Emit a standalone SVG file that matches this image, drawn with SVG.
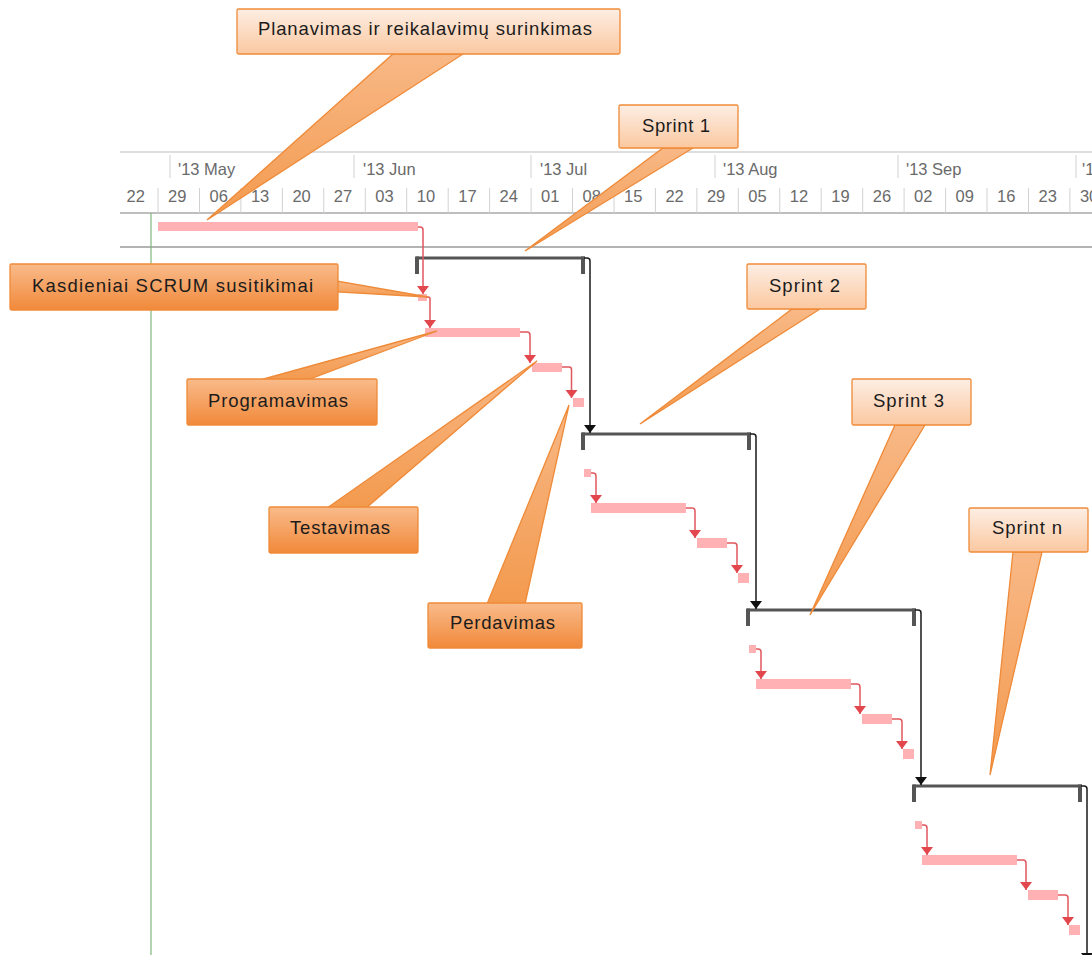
<svg xmlns="http://www.w3.org/2000/svg" width="1092" height="955" viewBox="0 0 1092 955">
  <style>
    .hdr{font-family:"Liberation Sans",Arial,sans-serif;font-size:16.5px;fill:#6a6a6a}
    .wk{text-anchor:middle}
    .tick{stroke:#d2d2d2;stroke-width:1}
    .task{fill:#ffb1b4}
    .dep{fill:none;stroke:#e0585d;stroke-width:1.5}
    .sum{fill:none;stroke:#1a1a1a;stroke-width:1.5}
    .brk{fill:none;stroke:#555;stroke-width:3}
    .brt{fill:#555}
    .lbl{font-family:"Liberation Sans",Arial,sans-serif;font-size:18.5px;fill:#1c1c1c;text-anchor:middle}
    .co{stroke:#ef8a38;stroke-width:1.3}
    .box-l{fill:url(#gLight)}
    .box-d{fill:url(#gDark)}
    .wedge{fill:url(#gWedge)}
  </style>
  <defs>
    <linearGradient id="gLight" x1="0" y1="0" x2="0" y2="1">
      <stop offset="0" stop-color="#fdeee4"/>
      <stop offset="1" stop-color="#fbc8a0"/>
    </linearGradient>
    <linearGradient id="gDark" x1="0" y1="0" x2="0" y2="1">
      <stop offset="0" stop-color="#f9bb8b"/>
      <stop offset="1" stop-color="#f1893a"/>
    </linearGradient>
    <linearGradient id="gWedge" x1="0" y1="0" x2="0" y2="1">
      <stop offset="0" stop-color="#f8b886"/>
      <stop offset="1" stop-color="#f39a4e"/>
    </linearGradient>
    <marker id="arrRed" viewBox="0 0 8 12" refX="8" refY="6" markerWidth="8" markerHeight="13" markerUnits="userSpaceOnUse" orient="auto">
      <path d="M0,0 L8,6 L0,12 Z" fill="#e2474d"/>
    </marker>
    <marker id="arrBlk" viewBox="0 0 8 12" refX="8" refY="6" markerWidth="8" markerHeight="13" markerUnits="userSpaceOnUse" orient="auto">
      <path d="M0,0 L8,6 L0,12 Z" fill="#111"/>
    </marker>
  </defs>

  <rect width="1092" height="955" fill="#fff"/>

  <!-- timescale header -->
  <g id="timescale">
    <line x1="120" y1="152" x2="1092" y2="152" stroke="#dedede" stroke-width="2"/>
    <line x1="120" y1="213" x2="1092" y2="213" stroke="#a8a8a8" stroke-width="1.5"/>
    <line x1="120" y1="247" x2="1092" y2="247" stroke="#9a9a9a" stroke-width="1.5"/>
    <g class="tick">
      <line x1="170" y1="155" x2="170" y2="178"/>
      <line x1="354" y1="155" x2="354" y2="178"/>
      <line x1="531" y1="155" x2="531" y2="178"/>
      <line x1="715" y1="155" x2="715" y2="178"/>
      <line x1="898" y1="155" x2="898" y2="178"/>
      <line x1="1076" y1="155" x2="1076" y2="178"/>
      <line x1="158" y1="188" x2="158" y2="213"/>
      <line x1="199.5" y1="188" x2="199.5" y2="213"/>
      <line x1="240.9" y1="188" x2="240.9" y2="213"/>
      <line x1="282.4" y1="188" x2="282.4" y2="213"/>
      <line x1="323.8" y1="188" x2="323.8" y2="213"/>
      <line x1="365.3" y1="188" x2="365.3" y2="213"/>
      <line x1="406.7" y1="188" x2="406.7" y2="213"/>
      <line x1="448.2" y1="188" x2="448.2" y2="213"/>
      <line x1="489.6" y1="188" x2="489.6" y2="213"/>
      <line x1="531.1" y1="188" x2="531.1" y2="213"/>
      <line x1="572.5" y1="188" x2="572.5" y2="213"/>
      <line x1="614" y1="188" x2="614" y2="213"/>
      <line x1="655.4" y1="188" x2="655.4" y2="213"/>
      <line x1="696.9" y1="188" x2="696.9" y2="213"/>
      <line x1="738.3" y1="188" x2="738.3" y2="213"/>
      <line x1="779.8" y1="188" x2="779.8" y2="213"/>
      <line x1="821.2" y1="188" x2="821.2" y2="213"/>
      <line x1="862.7" y1="188" x2="862.7" y2="213"/>
      <line x1="904.1" y1="188" x2="904.1" y2="213"/>
      <line x1="945.6" y1="188" x2="945.6" y2="213"/>
      <line x1="987" y1="188" x2="987" y2="213"/>
      <line x1="1028.5" y1="188" x2="1028.5" y2="213"/>
      <line x1="1069.9" y1="188" x2="1069.9" y2="213"/>
    </g>
    <g class="hdr">
      <text x="178" y="175">'13 May</text>
      <text x="363" y="175">'13 Jun</text>
      <text x="540" y="175">'13 Jul</text>
      <text x="723" y="175">'13 Aug</text>
      <text x="906" y="175">'13 Sep</text>
      <text x="1082" y="175">'1</text>
    </g>
    <g class="hdr wk">
      <text x="135.8" y="202">22</text>
      <text x="177.2" y="202">29</text>
      <text x="218.7" y="202">06</text>
      <text x="260.1" y="202">13</text>
      <text x="301.6" y="202">20</text>
      <text x="343" y="202">27</text>
      <text x="384.5" y="202">03</text>
      <text x="425.9" y="202">10</text>
      <text x="467.4" y="202">17</text>
      <text x="508.8" y="202">24</text>
      <text x="550.3" y="202">01</text>
      <text x="591.7" y="202">08</text>
      <text x="633.2" y="202">15</text>
      <text x="674.6" y="202">22</text>
      <text x="716.1" y="202">29</text>
      <text x="757.5" y="202">05</text>
      <text x="799" y="202">12</text>
      <text x="840.4" y="202">19</text>
      <text x="881.9" y="202">26</text>
      <text x="923.3" y="202">02</text>
      <text x="964.8" y="202">09</text>
      <text x="1006.2" y="202">16</text>
      <text x="1047.7" y="202">23</text>
      <text x="1089.1" y="202">30</text>
    </g>
  </g>

  <!-- project start line -->
  <line id="start-line" x1="151" y1="213" x2="151" y2="955" stroke="#7cb77c" stroke-width="1.2"/>

  <!-- planning task -->
  <g id="planning">
    <rect class="task" x="158" y="222" width="260" height="9"/>
  </g>

  <!-- sprints: summary bracket and four task bars each -->
  <g id="sprint1" transform="translate(416,258)">
    <line class="brk" x1="0" y1="0" x2="169" y2="0"/>
    <rect class="brt" x="-1" y="-1.5" width="4" height="17.5"/>
    <rect class="brt" x="165" y="-1.5" width="4" height="17.5"/>
    <rect class="task" x="2" y="36" width="9" height="7"/>
    <rect class="task" x="9" y="70" width="95" height="9"/>
    <rect class="task" x="116" y="105" width="30" height="9"/>
    <rect class="task" x="157" y="140" width="11" height="9"/>
  </g>
  <g id="sprint2" transform="translate(582,434)">
    <line class="brk" x1="0" y1="0" x2="169" y2="0"/>
    <rect class="brt" x="-1" y="-1.5" width="4" height="17.5"/>
    <rect class="brt" x="165" y="-1.5" width="4" height="17.5"/>
    <rect class="task" x="2" y="35" width="7" height="8"/>
    <rect class="task" x="9" y="69" width="95" height="10"/>
    <rect class="task" x="115" y="104" width="30" height="10"/>
    <rect class="task" x="156" y="139" width="11" height="10"/>
  </g>
  <g id="sprint3" transform="translate(747,610)">
    <line class="brk" x1="0" y1="0" x2="169" y2="0"/>
    <rect class="brt" x="-1" y="-1.5" width="4" height="17.5"/>
    <rect class="brt" x="165" y="-1.5" width="4" height="17.5"/>
    <rect class="task" x="2" y="35" width="7" height="8"/>
    <rect class="task" x="9" y="69" width="95" height="10"/>
    <rect class="task" x="115" y="104" width="30" height="10"/>
    <rect class="task" x="156" y="139" width="11" height="10"/>
  </g>
  <g id="sprintN" transform="translate(913,786)">
    <line class="brk" x1="0" y1="0" x2="169" y2="0"/>
    <rect class="brt" x="-1" y="-1.5" width="4" height="17.5"/>
    <rect class="brt" x="165" y="-1.5" width="4" height="17.5"/>
    <rect class="task" x="2" y="35" width="7" height="8"/>
    <rect class="task" x="9" y="69" width="95" height="10"/>
    <rect class="task" x="115" y="104" width="30" height="10"/>
    <rect class="task" x="156" y="139" width="11" height="10"/>
  </g>

  <!-- dependency links -->
  <g id="connectors">
    <path class="dep" d="M418,227 H420 Q423,227 423,230 V294" marker-end="url(#arrRed)"/>
    <g transform="translate(416,258)">
      <path class="dep" d="M10,39 H12 Q14,39 14,41 V70" marker-end="url(#arrRed)"/>
      <path class="dep" d="M104,74 H111 Q114,74 114,77 V105" marker-end="url(#arrRed)"/>
      <path class="dep" d="M146,109 H153 Q155.5,109 155.5,111.5 V140" marker-end="url(#arrRed)"/>
      <path class="sum" d="M168,0 H171 Q174,0 174,3 V175" marker-end="url(#arrBlk)"/>
    </g>
    <g transform="translate(582,434)">
      <path class="dep" d="M9,39 H11 Q14,39 14,42 V69" marker-end="url(#arrRed)"/>
      <path class="dep" d="M104,74 H110 Q113,74 113,77 V104" marker-end="url(#arrRed)"/>
      <path class="dep" d="M145,109 H152 Q155,109 155,112 V139" marker-end="url(#arrRed)"/>
      <path class="sum" d="M168,0 H171 Q174,0 174,3 V175" marker-end="url(#arrBlk)"/>
    </g>
    <g transform="translate(747,610)">
      <path class="dep" d="M9,39 H11 Q14,39 14,42 V69" marker-end="url(#arrRed)"/>
      <path class="dep" d="M104,74 H110 Q113,74 113,77 V104" marker-end="url(#arrRed)"/>
      <path class="dep" d="M145,109 H152 Q155,109 155,112 V139" marker-end="url(#arrRed)"/>
      <path class="sum" d="M168,0 H171 Q174,0 174,3 V175" marker-end="url(#arrBlk)"/>
    </g>
    <g transform="translate(913,786)">
      <path class="dep" d="M9,39 H11 Q14,39 14,42 V69" marker-end="url(#arrRed)"/>
      <path class="dep" d="M104,74 H110 Q113,74 113,77 V104" marker-end="url(#arrRed)"/>
      <path class="dep" d="M145,109 H152 Q155,109 155,112 V139" marker-end="url(#arrRed)"/>
      <path class="sum" d="M168,0 H171 Q174,0 174,3 V175" marker-end="url(#arrBlk)"/>
    </g>
  </g>

  <!-- callouts -->
  <g id="callout-planavimas">
    <polygon class="wedge co" points="393,54 463,54 207,220"/>
    <rect class="box-l co" x="237" y="9" width="383" height="45" rx="1.5"/>
    <text class="lbl" x="425" y="35" textLength="334" lengthAdjust="spacing">Planavimas ir reikalavimų surinkimas</text>
  </g>
  <g id="callout-sprint1">
    <polygon class="wedge co" points="663,148 693,148 525,251"/>
    <rect class="box-l co" x="619" y="105" width="119" height="43" rx="1.5"/>
    <text class="lbl" x="676" y="132" textLength="68" lengthAdjust="spacing">Sprint 1</text>
  </g>
  <g id="callout-sprint2">
    <polygon class="wedge co" points="792,309 820,309 640,424"/>
    <rect class="box-l co" x="747" y="264" width="119" height="45" rx="1.5"/>
    <text class="lbl" x="804.5" y="292" textLength="71" lengthAdjust="spacing">Sprint 2</text>
  </g>
  <g id="callout-sprint3">
    <polygon class="wedge co" points="895,425 925,425 810,615"/>
    <rect class="box-l co" x="852" y="379" width="119" height="46" rx="1.5"/>
    <text class="lbl" x="908.5" y="407" textLength="71" lengthAdjust="spacing">Sprint 3</text>
  </g>
  <g id="callout-sprintn">
    <polygon class="wedge co" points="1013,552 1042,552 990,775"/>
    <rect class="box-l co" x="969" y="508" width="119" height="44" rx="1.5"/>
    <text class="lbl" x="1027" y="534" textLength="70" lengthAdjust="spacing">Sprint n</text>
  </g>
  <g id="callout-kasdieniai">
    <polygon class="wedge co" points="337,281 337,292 428,297"/>
    <rect class="box-d co" x="10" y="264" width="328" height="46" rx="1.5"/>
    <text class="lbl" x="172.5" y="292" textLength="281" lengthAdjust="spacing">Kasdieniai SCRUM susitikimai</text>
  </g>
  <g id="callout-programavimas">
    <polygon class="wedge co" points="260,380 307,380 437,331"/>
    <rect class="box-d co" x="187" y="379" width="190" height="46" rx="1.5"/>
    <text class="lbl" x="278" y="407" textLength="140" lengthAdjust="spacing">Programavimas</text>
  </g>
  <g id="callout-testavimas">
    <polygon class="wedge co" points="327,508 366,508 537,361"/>
    <rect class="box-d co" x="269" y="507" width="149" height="46" rx="1.5"/>
    <text class="lbl" x="340" y="534" textLength="100" lengthAdjust="spacing">Testavimas</text>
  </g>
  <g id="callout-perdavimas">
    <polygon class="wedge co" points="487,604 525,604 569,405"/>
    <rect class="box-d co" x="428" y="603" width="154" height="45" rx="1.5"/>
    <text class="lbl" x="502.5" y="629" textLength="105" lengthAdjust="spacing">Perdavimas</text>
  </g>
</svg>
